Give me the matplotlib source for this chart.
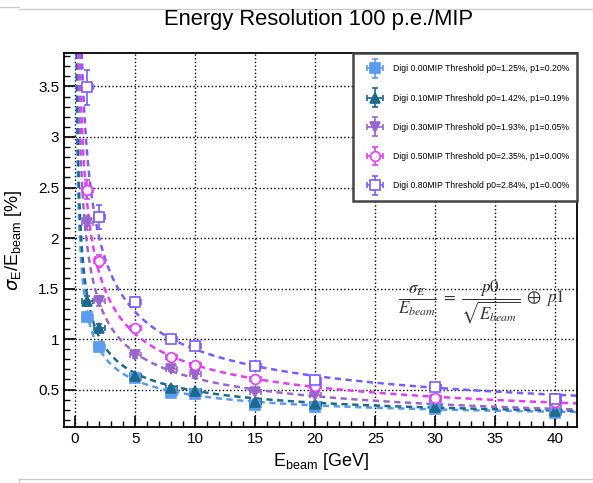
import numpy as np
import matplotlib
matplotlib.use('Agg')
import matplotlib.pyplot as plt
from matplotlib.ticker import MultipleLocator
from matplotlib.lines import Line2D
from matplotlib.legend_handler import HandlerErrorbar

plt.rcParams['font.family'] = ['Liberation Sans', 'DejaVu Sans']

energy = [1, 2, 5, 8, 10, 15, 20, 30, 40]

res_000 = [1.22, 0.92, 0.61, 0.47, 0.46, 0.35, 0.33, 0.31, 0.27]
res_010 = [1.38, 1.11, 0.635, 0.52, 0.49, 0.38, 0.36, 0.325, 0.29]
res_030 = [2.15, 1.38, 0.84, 0.705, 0.65, 0.48, 0.45, 0.40, 0.35]
res_050 = [2.48, 1.77, 1.11, 0.82, 0.745, 0.605, 0.54, 0.42, 0.38]
res_080 = [3.49, 2.21, 1.37, 1.00, 0.935, 0.73, 0.59, 0.53, 0.41]

err_000 = [0.04, 0.03, 0.02, 0.015, 0.015, 0.012, 0.01, 0.01, 0.01]
err_010 = [0.05, 0.04, 0.02, 0.015, 0.015, 0.012, 0.01, 0.01, 0.01]
err_030 = [0.07, 0.05, 0.03, 0.02, 0.02, 0.015, 0.012, 0.012, 0.012]
err_050 = [0.09, 0.06, 0.03, 0.025, 0.02, 0.015, 0.012, 0.012, 0.012]
err_080 = [0.17, 0.12, 0.05, 0.03, 0.03, 0.02, 0.015, 0.015, 0.015]

# fit parameters (percent) from the legend
p0 = [1.25, 1.42, 1.93, 2.35, 2.84]
p1 = [0.20, 0.19, 0.05, 0.00, 0.00]
thresholds = ['0.00', '0.10', '0.30', '0.50', '0.80']

series = [res_000, res_010, res_030, res_050, res_080]
errors = [err_000, err_010, err_030, err_050, err_080]
colors = ['#5b9cf0', '#1d6a8c', '#9966cc', '#e040f0', '#7a5cff']
markers = ['s', '^', 'v', 'o', 's']
filled = [True, True, True, False, False]

fig = plt.figure(figsize=(5.93, 4.83), dpi=100)
ax = fig.add_axes([0.108, 0.116, 0.865, 0.774])

e_fit = np.linspace(0.05, 41.8, 800)
for i in range(5):
    c = colors[i]
    curve = np.sqrt((p0[i] / np.sqrt(e_fit))**2 + p1[i]**2)
    ax.plot(e_fit, curve, color=c, linestyle=(0, (2.5, 1.8)), linewidth=1.8, zorder=2)
    lab = 'Digi %sMIP Threshold p0=%.2f%%, p1=%.2f%%' % (thresholds[i], p0[i], p1[i])
    ax.errorbar(energy, series[i], yerr=errors[i], xerr=0.45, fmt=markers[i], color=c,
                markersize=7, markerfacecolor=c if filled[i] else 'white',
                markeredgecolor=c, markeredgewidth=1.2, elinewidth=1.2, capsize=2.5,
                label=lab, zorder=3)

ax.set_xlim(-0.92, 41.8)
ax.set_ylim(0.13, 3.83)
ax.xaxis.set_major_locator(MultipleLocator(5))
ax.xaxis.set_minor_locator(MultipleLocator(1))
ax.yaxis.set_major_locator(MultipleLocator(0.5))
ax.yaxis.set_minor_locator(MultipleLocator(0.1))
ax.tick_params(which='both', direction='in', top=False, right=False, labelsize=11)
ax.tick_params(which='major', length=8, width=1.2)
ax.tick_params(which='minor', length=4.5, width=1.0)
ax.yaxis.set_major_formatter(matplotlib.ticker.FuncFormatter(lambda v, p: '%g' % v))
ax.grid(True, which='major', color='black', linestyle=':', linewidth=1.0)
ax.set_axisbelow(True)
for sp in ax.spines.values():
    sp.set_linewidth(1.3)

ax.set_xlabel(r'E$_{\mathregular{beam}}$ [GeV]', fontsize=13, labelpad=4)
ax.set_ylabel(r'$\sigma_{\mathregular{E}}$/E$_{\mathregular{beam}}$ [%]', fontsize=13, labelpad=10)
fig.text(0.537, 0.960, 'Energy Resolution 100 p.e./MIP', fontsize=15.8, ha='center', va='center')

ax.text(0.652, 0.333,
        r'$\dfrac{\sigma_E}{E_{beam}}\ =\ \dfrac{p0}{\sqrt{E_{beam}}}\ \oplus\ p1$',
        transform=ax.transAxes, fontsize=12.2, math_fontfamily='stix', color='#333333',
        va='center')

leg = ax.legend(loc='upper left', bbox_to_anchor=(0.563, 0.61, 0.437, 0.39),
                mode='expand', borderaxespad=0, fontsize=6.2, labelspacing=2.35,
                borderpad=1.3, handlelength=2.6, handletextpad=0.8, fancybox=False,
                framealpha=1, edgecolor='#444444',
                handler_map={matplotlib.container.ErrorbarContainer:
                             HandlerErrorbar(xerr_size=0.9, yerr_size=1.1)})
leg.get_frame().set_linewidth(1.8)

# light frame lines around the picture
fig.add_artist(Line2D([19 / 593, 1], [1 - 9 / 483, 1 - 9 / 483], color='#cccccc', lw=1))
fig.add_artist(Line2D([0, 19 / 593], [1 - 7 / 483, 1 - 7 / 483], color='#cccccc', lw=1))
fig.add_artist(Line2D([19 / 593, 1], [1 - 479 / 483, 1 - 479 / 483], color='#cccccc', lw=1))
fig.add_artist(Line2D([19 / 593, 19 / 593], [0, 1 - 479 / 483], color='#cccccc', lw=1))

plt.savefig('out.png', dpi=100)
